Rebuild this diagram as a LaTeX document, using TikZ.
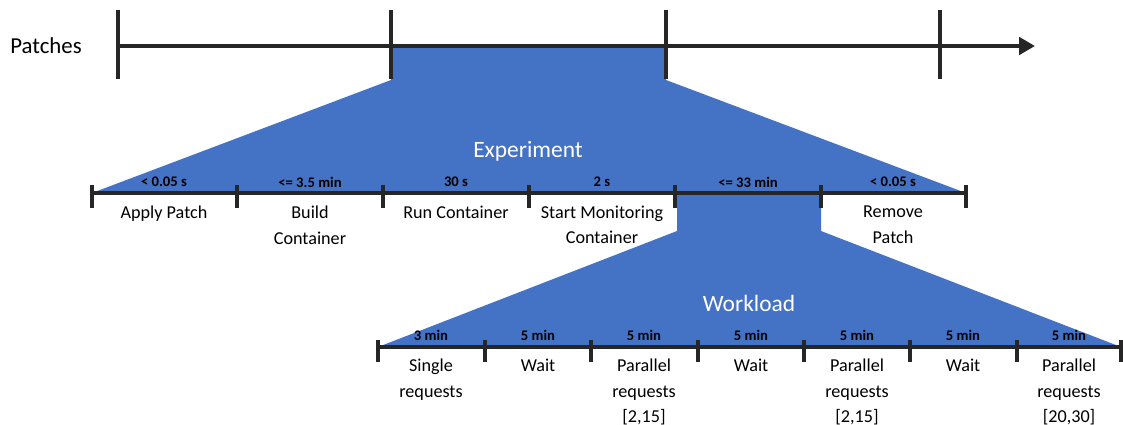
\documentclass[tikz,border=0pt]{standalone}
\usepackage{fontspec}
\setmainfont{Carlito}
\usetikzlibrary{arrows.meta}
\definecolor{fillblue}{HTML}{4472C4}
\definecolor{axisgray}{HTML}{262626}
\begin{document}
\begin{tikzpicture}[
  x=0.03cm, y=-0.03cm,
  axisline/.style={draw=axisgray, line width=4pt},
  tickline/.style={draw=axisgray, line width=3pt},
  durlabel/.style={font=\fontsize{12.5}{14}\selectfont\bfseries, text=black, inner sep=0pt},
  steplabel/.style={font=\fontsize{15.5}{21.5}\selectfont, align=center, anchor=north, inner sep=0pt},
  titlelabel/.style={font=\fontsize{20}{24}\selectfont, text=white, inner sep=0pt}
]
\useasboundingbox (0,0) rectangle (1123,425);

% Blue zoom areas
\fill[fillblue] (391,46) -- (666,46) -- (666,80) -- (966,193) -- (92,193) -- (391,80) -- cycle;
\fill[fillblue] (677,193) -- (821,193) -- (821,231) -- (1121,347) -- (378,347) -- (677,231) -- cycle;

% Patches axis
\node[font=\fontsize{19.5}{24}\selectfont, inner sep=0pt] (patches) at (46,46) {Patches};
\coordinate (p0) at (118,46);
\coordinate (p1) at (391,46);
\coordinate (p2) at (666,46);
\coordinate (p3) at (940,46);
\coordinate (pend) at (1035,46);
\draw[axisline, -{Triangle[length=4.8mm, width=5.2mm]}] (p0) -- (pend);
\draw[tickline, line width=4pt] (118,10) -- (118,79);
\draw[tickline, line width=4pt] (391,10) -- (391,79);
\draw[tickline, line width=4pt] (666,10) -- (666,79);
\draw[tickline, line width=4pt] (940,10) -- (940,79);

% Experiment axis
\node[titlelabel] (experiment) at (528,151) {Experiment};
\coordinate (e0) at (92,193);
\coordinate (e6) at (966,193);
\draw[axisline] (e0) -- (e6);
\draw[tickline] (92,185) -- (92,208);
\draw[tickline] (237,185) -- (237,208);
\draw[tickline] (383,185) -- (383,208);
\draw[tickline] (529,185) -- (529,208);
\draw[tickline] (675,185) -- (675,208);
\draw[tickline] (821,185) -- (821,208);
\draw[tickline] (966,185) -- (966,208);

\node[durlabel] (dur1) at (164,182) {< 0.05 s};
\node[durlabel] (dur2) at (310,182) {<= 3.5 min};
\node[durlabel] (dur3) at (456,182) {30 s};
\node[durlabel] (dur4) at (602,182) {2 s};
\node[durlabel] (dur5) at (748,182) {<= 33 min};
\node[durlabel] (dur6) at (893,182) {< 0.05 s};

\node[steplabel] (apply) at (164,206) {Apply Patch};
\node[steplabel] (build) at (310,206) {Build\\Container};
\node[steplabel] (run) at (456,206) {Run Container};
\node[steplabel] (monitor) at (602,206) {Start Monitoring\\Container};
\node[steplabel] (remove) at (893,206) {Remove\\Patch};

% Workload axis
\node[titlelabel] (workload) at (749,303) {Workload};
\coordinate (w0) at (378,347);
\coordinate (w7) at (1121,347);
\draw[axisline] (w0) -- (w7);
\draw[tickline] (378,340) -- (378,362);
\draw[tickline] (485,340) -- (485,362);
\draw[tickline] (591,340) -- (591,362);
\draw[tickline] (698,340) -- (698,362);
\draw[tickline] (804,340) -- (804,362);
\draw[tickline] (910,340) -- (910,362);
\draw[tickline] (1017,340) -- (1017,362);
\draw[tickline] (1121,340) -- (1121,362);

\node[durlabel] (wdur1) at (431,335) {3 min};
\node[durlabel] (wdur2) at (538,335) {5 min};
\node[durlabel] (wdur3) at (644,335) {5 min};
\node[durlabel] (wdur4) at (751,335) {5 min};
\node[durlabel] (wdur5) at (857,335) {5 min};
\node[durlabel] (wdur6) at (963,335) {5 min};
\node[durlabel] (wdur7) at (1069,335) {5 min};

\node[steplabel] (single) at (431,359) {Single\\requests};
\node[steplabel] (wait1) at (538,359) {Wait};
\node[steplabel] (par1) at (644,359) {Parallel\\requests\\{[2,15]}};
\node[steplabel] (wait2) at (751,359) {Wait};
\node[steplabel] (par2) at (857,359) {Parallel\\requests\\{[2,15]}};
\node[steplabel] (wait3) at (963,359) {Wait};
\node[steplabel] (par3) at (1069,359) {Parallel\\requests\\{[20,30]}};

\end{tikzpicture}
\end{document}
